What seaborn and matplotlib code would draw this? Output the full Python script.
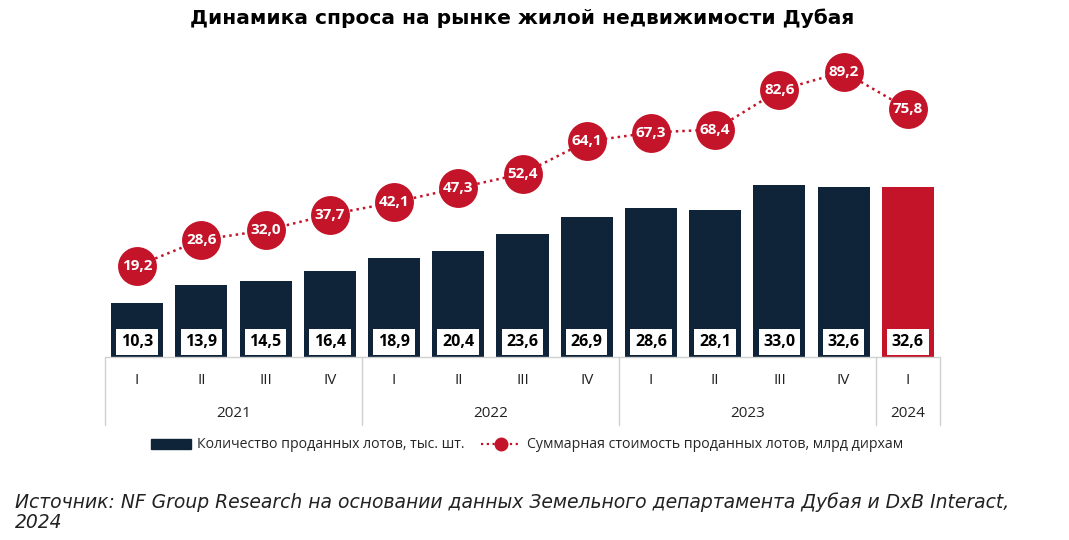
import numpy as np
import pandas as pd
import matplotlib
matplotlib.use("Agg")
import matplotlib.pyplot as plt
import seaborn as sns
from matplotlib.lines import Line2D
from matplotlib.patches import Patch
import matplotlib.transforms as mtransforms

# data
quarters = ["I", "II", "III", "IV", "I", "II", "III", "IV", "I", "II", "III", "IV", "I"]
years = ["2021", "2022", "2023", "2024"]
year_counts = [4, 4, 4, 1]
lots = [10.3, 13.9, 14.5, 16.4, 18.9, 20.4, 23.6, 26.9, 28.6, 28.1, 33.0, 32.6, 32.6]
value = [19.2, 28.6, 32.0, 37.7, 42.1, 47.3, 52.4, 64.1, 67.3, 68.4, 82.6, 89.2, 75.8]

navy = "#0f2438"
red = "#c3142a"
grey = "#d0d0d0"

df = pd.DataFrame({"pos": [str(i) for i in range(len(lots))], "lots": lots, "value": value})
bar_colors = [navy] * (len(lots) - 1) + [red]

sns.set_style("white")
plt.rcParams["font.family"] = ["DejaVu Sans"]

fig = plt.figure(figsize=(10.69, 5.4), dpi=100)
ax = fig.add_axes([105 / 1069, 1 - 357 / 540, 835 / 1069, 317 / 540])

sns.barplot(data=df, x="pos", y="lots", hue="pos", palette=bar_colors,
            width=0.81, legend=False, ax=ax, saturation=1, linewidth=0, edgecolor="none")
ax.set_xlim(-0.5, len(lots) - 0.5)
ax.set_ylim(0, 60.8)
ax.set_xlabel("")
ax.set_ylabel("")
ax.set_xticks([])
ax.set_yticks([])
for s in ax.spines.values():
    s.set_visible(False)

# white label boxes inside the bars
for i, v in enumerate(lots):
    ax.text(i, 2.9, f"{v:.1f}".replace(".", ","), ha="center", va="center",
            fontsize=11.5, fontweight="bold", family="Open Sans", color="black",
            bbox=dict(boxstyle="square,pad=0.3", fc="white", ec="none"))

# line on second axis
ax2 = ax.twinx()
sns.lineplot(x=np.arange(len(value)), y=value, ax=ax2, color=red, lw=1.8,
             linestyle=(0, (1, 1.6)), marker="o", markersize=28,
             markeredgewidth=0, markerfacecolor=red)
ax2.set_ylim(-13.7, 100.7)
ax2.set_xlim(-0.5, len(lots) - 0.5)
ax2.set_yticks([])
for s in ax2.spines.values():
    s.set_visible(False)
for i, v in enumerate(value):
    ax2.text(i, v, f"{v:.1f}".replace(".", ","), ha="center", va="center",
             fontsize=11, fontweight="bold", family="Open Sans", color="white")

# category axis with quarters and years
tr = mtransforms.blended_transform_factory(ax.transData, ax.transAxes)
ax.plot([-0.5, len(lots) - 0.5], [0, 0], color=grey, lw=1, transform=tr, clip_on=False)
start = -0.5
seps = [start]
for c in year_counts:
    start += c
    seps.append(start)
for x in seps:
    ax.plot([x, x], [0, -0.215], color=grey, lw=1, transform=tr, clip_on=False)
for i, q in enumerate(quarters):
    ax.text(i, -0.073, q, ha="center", va="center", fontsize=11,
            family="Open Sans", color="#222222", transform=tr)
for j, y in enumerate(years):
    mid = (seps[j] + seps[j + 1]) / 2
    ax.text(mid, -0.177, y, ha="center", va="center", fontsize=11,
            family="Open Sans", color="#222222", transform=tr)

# legend
handles = [Patch(color=navy, label="Количество проданных лотов, тыс. шт."),
           Line2D([0], [0], color=red, lw=1.6, linestyle=(0, (1, 1.6)), marker="o",
                  markersize=9, label="Суммарная стоимость проданных лотов, млрд дирхам")]
fig.legend(handles=handles, loc="center", bbox_to_anchor=(527 / 1069, 1 - 445 / 540),
           ncol=2, frameon=False, prop={"family": "Open Sans", "size": 10.2},
           handlelength=2.8, columnspacing=1.2, handletextpad=0.4)

fig.text(522 / 1069, 1 - 18 / 540, "Динамика спроса на рынке жилой недвижимости Дубая",
         ha="center", va="center", fontsize=14.5, fontweight="bold", color="black")

fig.text(15 / 1069, 1 - 512 / 540,
         "Источник: NF Group Research на основании данных Земельного департамента Дубая и DxB Interact,\n2024",
         ha="left", va="center", fontsize=13.5, style="italic", color="#222222", linespacing=1.1)

fig.savefig("out.png", dpi=100)
